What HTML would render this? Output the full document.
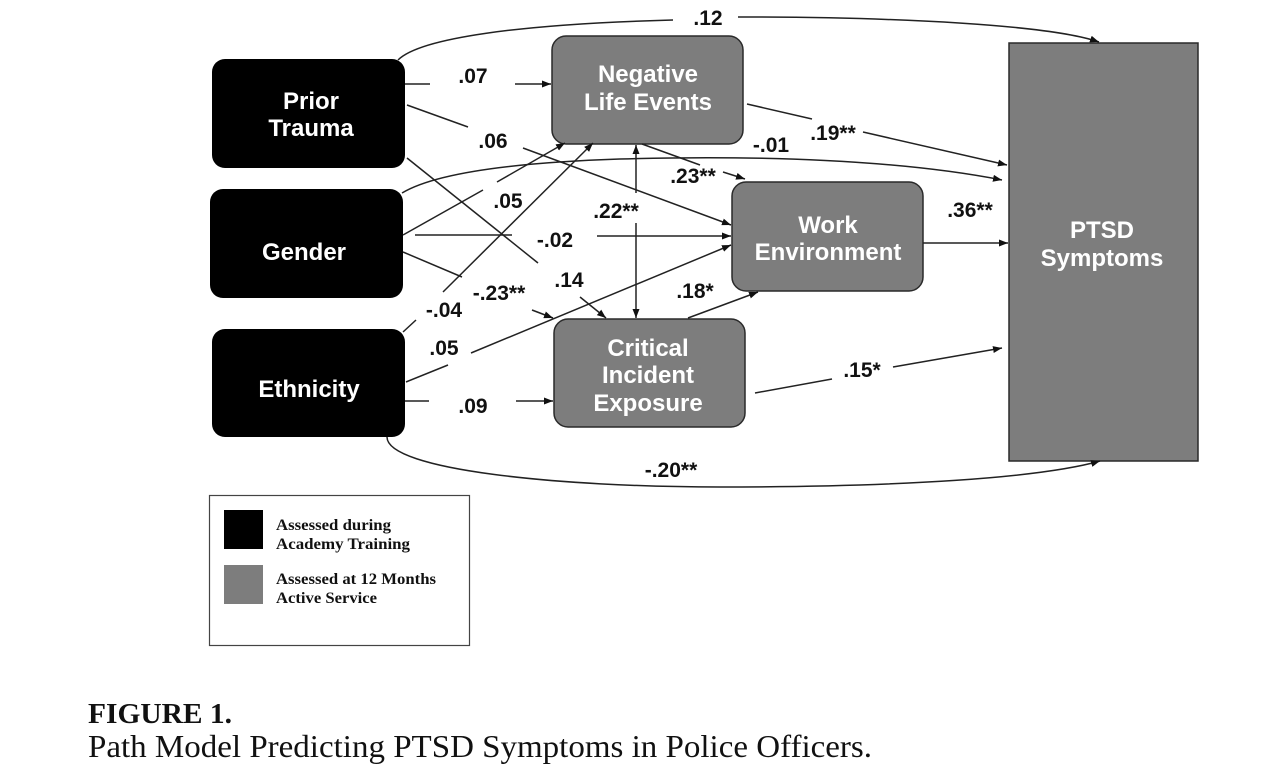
<!DOCTYPE html>
<html>
<head>
<meta charset="utf-8">
<style>
html,body{margin:0;padding:0;background:#fff;}
svg{display:block;}
.n{font-family:"Liberation Sans",Arial,sans-serif;font-weight:bold;font-size:24px;fill:#fff;text-anchor:middle;}
.l{font-family:"Liberation Sans",Arial,sans-serif;font-weight:bold;font-size:21px;fill:#111;text-anchor:middle;}
.e{fill:none;stroke:#222;stroke-width:1.5;}
.lg{font-family:"Liberation Serif","Times New Roman",serif;font-weight:bold;font-size:16px;fill:#111;}
</style>
</head>
<body>
<svg width="1280" height="783" viewBox="0 0 1280 783" xmlns="http://www.w3.org/2000/svg">
<defs>
<marker id="a" markerUnits="userSpaceOnUse" markerWidth="10" markerHeight="8" refX="9" refY="3.5" orient="auto">
<path d="M0,0 L9,3.5 L0,7 z" fill="#111"/>
</marker>
</defs>
<rect width="1280" height="783" fill="#fff"/>

<!-- Boxes -->
<rect x="212" y="59" width="193" height="109" rx="13" fill="#000"/>
<rect x="210" y="189" width="193" height="109" rx="13" fill="#000"/>
<rect x="212" y="329" width="193" height="108" rx="13" fill="#000"/>
<rect x="552" y="36" width="191" height="108" rx="14" fill="#7d7d7d" stroke="#2a2a2a" stroke-width="1.5"/>
<rect x="732" y="182" width="191" height="109" rx="14" fill="#7d7d7d" stroke="#2a2a2a" stroke-width="1.5"/>
<rect x="554" y="319" width="191" height="108" rx="14" fill="#7d7d7d" stroke="#2a2a2a" stroke-width="1.5"/>
<rect x="1009" y="43" width="189" height="418" fill="#7d7d7d" stroke="#2a2a2a" stroke-width="1.5"/>

<!-- Node labels -->
<text class="n" x="311" y="109">Prior</text>
<text class="n" x="311" y="136">Trauma</text>
<text class="n" x="304" y="260">Gender</text>
<text class="n" x="309" y="397">Ethnicity</text>
<text class="n" x="648" y="82">Negative</text>
<text class="n" x="648" y="110">Life Events</text>
<text class="n" x="828" y="233">Work</text>
<text class="n" x="828" y="260">Environment</text>
<text class="n" x="648" y="356">Critical</text>
<text class="n" x="648" y="383">Incident</text>
<text class="n" x="648" y="411">Exposure</text>
<text class="n" x="1102" y="238">PTSD</text>
<text class="n" x="1102" y="266">Symptoms</text>

<!-- Edges -->
<path class="e" d="M398,60 C420,38 520,24 673,20"/>
<path class="e" d="M738,17 C900,17 1050,25 1099,42" marker-end="url(#a)"/>
<path class="e" d="M405,84 H430"/>
<path class="e" d="M515,84 H551" marker-end="url(#a)"/>
<path class="e" d="M407,105 L468,127"/>
<path class="e" d="M523,148 L731,225" marker-end="url(#a)"/>
<path class="e" d="M407,158 L538,263"/>
<path class="e" d="M580,297 L606,318" marker-end="url(#a)"/>
<path class="e" d="M403,235 L483,190"/>
<path class="e" d="M497,182 L565,143" marker-end="url(#a)"/>
<path class="e" d="M415,235 H512"/>
<path class="e" d="M597,236 H731" marker-end="url(#a)"/>
<path class="e" d="M403,252 L462,277"/>
<path class="e" d="M532,310 L553,318" marker-end="url(#a)"/>
<path class="e" d="M402,193 C432,175 500,163 620,159 C760,155 900,160 1002,180" marker-end="url(#a)"/>
<path class="e" d="M403,332 L416,320"/>
<path class="e" d="M443,292 L593,143" marker-end="url(#a)"/>
<path class="e" d="M406,382 L448,365"/>
<path class="e" d="M471,353 L731,245" marker-end="url(#a)"/>
<path class="e" d="M405,401 H429"/>
<path class="e" d="M516,401 H553" marker-end="url(#a)"/>
<path class="e" d="M387,437 C387,470 560,487 720,487 C900,487 1040,478 1100,461" marker-end="url(#a)"/>
<path class="e" d="M642,144 L700,165"/>
<path class="e" d="M723,172 L745,179" marker-end="url(#a)"/>
<path class="e" d="M636,193 L636,145" marker-end="url(#a)"/>
<path class="e" d="M636,223 L636,318" marker-end="url(#a)"/>
<path class="e" d="M747,104 L812,119"/>
<path class="e" d="M863,132 L1007,165" marker-end="url(#a)"/>
<path class="e" d="M923,243 L1008,243" marker-end="url(#a)"/>
<path class="e" d="M688,318 L758,292" marker-end="url(#a)"/>
<path class="e" d="M755,393 L832,379"/>
<path class="e" d="M893,367 L1002,348" marker-end="url(#a)"/>

<!-- Edge labels -->
<text class="l" x="708" y="25">.12</text>
<text class="l" x="473" y="83">.07</text>
<text class="l" x="493" y="148">.06</text>
<text class="l" x="508" y="208">.05</text>
<text class="l" x="555" y="247">-.02</text>
<text class="l" x="569" y="287">.14</text>
<text class="l" x="499" y="300">-.23**</text>
<text class="l" x="444" y="317">-.04</text>
<text class="l" x="616" y="218">.22**</text>
<text class="l" x="444" y="355">.05</text>
<text class="l" x="473" y="413">.09</text>
<text class="l" x="693" y="183">.23**</text>
<text class="l" x="771" y="152">-.01</text>
<text class="l" x="833" y="140">.19**</text>
<text class="l" x="970" y="217">.36**</text>
<text class="l" x="695" y="298">.18*</text>
<text class="l" x="862" y="377">.15*</text>
<text class="l" x="671" y="477">-.20**</text>

<!-- Legend -->
<rect x="209.5" y="495.5" width="260" height="150" fill="#fff" stroke="#444" stroke-width="1.2"/>
<rect x="224" y="510" width="39" height="39" fill="#000"/>
<rect x="224" y="565" width="39" height="39" fill="#7d7d7d"/>
<text class="lg" x="276" y="530" textLength="115" lengthAdjust="spacingAndGlyphs">Assessed during</text>
<text class="lg" x="276" y="549" textLength="134" lengthAdjust="spacingAndGlyphs">Academy Training</text>
<text class="lg" x="276" y="584" textLength="160" lengthAdjust="spacingAndGlyphs">Assessed at 12 Months</text>
<text class="lg" x="276" y="603" textLength="101" lengthAdjust="spacingAndGlyphs">Active Service</text>

<!-- Caption -->
<text x="88" y="723" font-family="'Liberation Serif','Times New Roman',serif" font-weight="bold" font-size="29" fill="#111" textLength="144" lengthAdjust="spacingAndGlyphs">FIGURE 1.</text>
<text x="88" y="757" font-family="'Liberation Serif','Times New Roman',serif" font-size="32" fill="#111" textLength="784" lengthAdjust="spacingAndGlyphs">Path Model Predicting PTSD Symptoms in Police Officers.</text>
</svg>
</body>
</html>
